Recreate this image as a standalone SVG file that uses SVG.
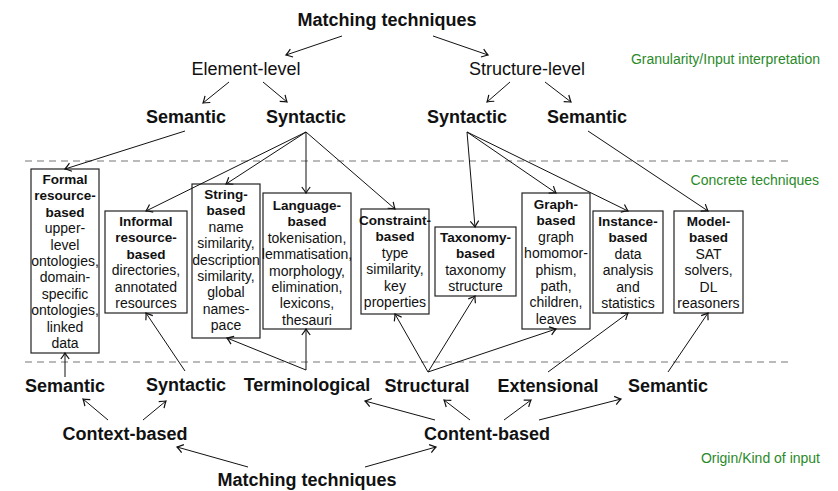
<svg xmlns="http://www.w3.org/2000/svg" width="838" height="491" viewBox="0 0 838 491">
  <style>
    text { font-family: "Liberation Sans", "DejaVu Sans", sans-serif; fill: #111; }
    .big { font-size: 18px; font-weight: bold; text-anchor: middle; }
    .lvl { font-size: 18px; text-anchor: middle; }
    .note { font-size: 14px; fill: #2a8a2a; text-anchor: end; }
    .box rect { fill: #fff; stroke: #222; stroke-width: 1.2; }
    .box text { font-size: 14px; text-anchor: middle; }
    .box .t { font-weight: bold; font-size: 13.5px; }
    .sep { stroke: #777; stroke-width: 1.2; stroke-dasharray: 7 5; fill: none; }
    #connectors line { stroke: #111; stroke-width: 1; fill: none; }
    .arr { marker-end: url(#head); }
  </style>
  <defs>
    <marker id="head" markerUnits="userSpaceOnUse" markerWidth="12" markerHeight="12" viewBox="-7 -5 9 10" refX="0" refY="0" orient="auto">
      <path d="M -5 -3.5 Q -1.5 -0.8 0 0 Q -1.5 0.8 -5 3.5" fill="none" stroke="#111" stroke-width="1"/>
    </marker>
  </defs>

  <rect width="838" height="491" fill="#fff"/>

  <!-- layer separators -->
  <line class="sep" x1="25" y1="161" x2="789" y2="161"/>
  <line class="sep" x1="25" y1="362" x2="789" y2="362"/>

  <!-- layer captions -->
  <text class="note" x="820" y="64">Granularity/Input interpretation</text>
  <text class="note" x="819" y="185">Concrete techniques</text>
  <text class="note" x="820" y="463">Origin/Kind of input</text>

  <!-- upper classification -->
  <g id="top-root"><text class="big" x="387" y="26">Matching techniques</text></g>
  <g id="element-level"><text class="lvl" x="246" y="75">Element-level</text></g>
  <g id="structure-level"><text class="lvl" x="527" y="75">Structure-level</text></g>
  <g id="el-semantic"><text class="big" x="186" y="123">Semantic</text></g>
  <g id="el-syntactic"><text class="big" x="306" y="123">Syntactic</text></g>
  <g id="st-syntactic"><text class="big" x="467" y="123">Syntactic</text></g>
  <g id="st-semantic"><text class="big" x="587" y="123">Semantic</text></g>

  <!-- concrete techniques -->
  <g id="formal" class="box">
    <rect x="31" y="169" width="68" height="184"/>
    <text y="184"><tspan class="t" x="65">Formal</tspan><tspan class="t" x="65" dy="16.4">resource-</tspan><tspan class="t" x="65" dy="16.4">based</tspan><tspan x="65" dy="16.4">upper-</tspan><tspan x="65" dy="16.4">level</tspan><tspan x="65" dy="16.4">ontologies,</tspan><tspan x="65" dy="16.4">domain-</tspan><tspan x="65" dy="16.4">specific</tspan><tspan x="65" dy="16.4">ontologies,</tspan><tspan x="65" dy="16.4">linked</tspan><tspan x="65" dy="16.4">data</tspan></text>
  </g>
  <g id="informal" class="box">
    <rect x="105" y="211" width="82" height="102"/>
    <text y="226"><tspan class="t" x="146">Informal</tspan><tspan class="t" x="146" dy="16.4">resource-</tspan><tspan class="t" x="146" dy="16.4">based</tspan><tspan x="146" dy="16.4">directories,</tspan><tspan x="146" dy="16.4">annotated</tspan><tspan x="146" dy="16.4">resources</tspan></text>
  </g>
  <g id="string" class="box">
    <rect x="192" y="184" width="68" height="154"/>
    <text y="199"><tspan class="t" x="226">String-</tspan><tspan class="t" x="226" dy="16.4">based</tspan><tspan x="226" dy="16.4">name</tspan><tspan x="226" dy="16.4">similarity,</tspan><tspan x="226" dy="16.4">description</tspan><tspan x="226" dy="16.4">similarity,</tspan><tspan x="226" dy="16.4">global</tspan><tspan x="226" dy="16.4">names-</tspan><tspan x="226" dy="16.4">pace</tspan></text>
  </g>
  <g id="language" class="box">
    <rect x="263" y="193" width="88" height="136"/>
    <text y="210"><tspan class="t" x="307">Language-</tspan><tspan class="t" x="307" dy="16.4">based</tspan><tspan x="307" dy="16.4">tokenisation,</tspan><tspan x="307" dy="16.4">lemmatisation,</tspan><tspan x="307" dy="16.4">morphology,</tspan><tspan x="307" dy="16.4">elimination,</tspan><tspan x="307" dy="16.4">lexicons,</tspan><tspan x="307" dy="16.4">thesauri</tspan></text>
  </g>
  <g id="constraint" class="box">
    <rect x="361" y="209" width="68" height="105"/>
    <text y="225"><tspan class="t" x="395">Constraint-</tspan><tspan class="t" x="395" dy="16.4">based</tspan><tspan x="395" dy="16.4">type</tspan><tspan x="395" dy="16.4">similarity,</tspan><tspan x="395" dy="16.4">key</tspan><tspan x="395" dy="16.4">properties</tspan></text>
  </g>
  <g id="taxonomy" class="box">
    <rect x="435" y="227" width="81" height="69"/>
    <text y="242"><tspan class="t" x="475.5">Taxonomy-</tspan><tspan class="t" x="475.5" dy="16.4">based</tspan><tspan x="475.5" dy="16.4">taxonomy</tspan><tspan x="475.5" dy="16.4">structure</tspan></text>
  </g>
  <g id="graph" class="box">
    <rect x="522" y="193" width="68" height="136"/>
    <text y="209"><tspan class="t" x="556">Graph-</tspan><tspan class="t" x="556" dy="16.4">based</tspan><tspan x="556" dy="16.4">graph</tspan><tspan x="556" dy="16.4">homomor-</tspan><tspan x="556" dy="16.4">phism,</tspan><tspan x="556" dy="16.4">path,</tspan><tspan x="556" dy="16.4">children,</tspan><tspan x="556" dy="16.4">leaves</tspan></text>
  </g>
  <g id="instance" class="box">
    <rect x="593" y="211" width="70" height="102"/>
    <text y="226"><tspan class="t" x="628">Instance-</tspan><tspan class="t" x="628" dy="16.4">based</tspan><tspan x="628" dy="16.4">data</tspan><tspan x="628" dy="16.4">analysis</tspan><tspan x="628" dy="16.4">and</tspan><tspan x="628" dy="16.4">statistics</tspan></text>
  </g>
  <g id="model" class="box">
    <rect x="674" y="211" width="69" height="102"/>
    <text y="226"><tspan class="t" x="708.5">Model-</tspan><tspan class="t" x="708.5" dy="16.4">based</tspan><tspan x="708.5" dy="16.4">SAT</tspan><tspan x="708.5" dy="16.4">solvers,</tspan><tspan x="708.5" dy="16.4">DL</tspan><tspan x="708.5" dy="16.4">reasoners</tspan></text>
  </g>

  <!-- lower classification -->
  <g id="kind-semantic"><text class="big" x="65" y="392">Semantic</text></g>
  <g id="kind-syntactic"><text class="big" x="186" y="391">Syntactic</text></g>
  <g id="kind-terminological"><text class="big" x="307" y="391">Terminological</text></g>
  <g id="kind-structural"><text class="big" x="427" y="392">Structural</text></g>
  <g id="kind-extensional"><text class="big" x="548" y="392">Extensional</text></g>
  <g id="kind-semantic2"><text class="big" x="668" y="392">Semantic</text></g>
  <g id="context-based"><text class="big" x="125" y="440">Context-based</text></g>
  <g id="content-based"><text class="big" x="487" y="440">Content-based</text></g>
  <g id="bottom-root"><text class="big" x="307" y="486">Matching techniques</text></g>

  <g id="connectors">
    <!-- upper tree -->
    <line class="arr" x1="342" y1="36" x2="286" y2="55"/>
    <line class="arr" x1="433" y1="36" x2="488" y2="55"/>
    <line class="arr" x1="229" y1="82" x2="203" y2="103"/>
    <line class="arr" x1="263" y1="82" x2="287" y2="102"/>
    <line class="arr" x1="510" y1="82" x2="487" y2="102"/>
    <line class="arr" x1="545" y1="82" x2="571" y2="102"/>
    <!-- upper tree to techniques -->
    <line class="arr" x1="185" y1="131" x2="65" y2="169"/>
    <line class="arr" x1="306" y1="132" x2="146" y2="211"/>
    <line class="arr" x1="306" y1="132" x2="226" y2="184"/>
    <line class="arr" x1="306" y1="132" x2="306" y2="193"/>
    <line class="arr" x1="306" y1="132" x2="395" y2="209"/>
    <line class="arr" x1="467" y1="132" x2="475" y2="227"/>
    <line class="arr" x1="467" y1="132" x2="556" y2="193"/>
    <line class="arr" x1="467" y1="132" x2="628" y2="211"/>
    <line class="arr" x1="588" y1="131" x2="708" y2="211"/>
    <!-- lower tree to techniques -->
    <line class="arr" x1="65" y1="377" x2="65" y2="353"/>
    <line class="arr" x1="185" y1="371" x2="146" y2="313"/>
    <line class="arr" x1="306" y1="370" x2="227" y2="338"/>
    <line class="arr" x1="306" y1="370" x2="306" y2="329"/>
    <line class="arr" x1="428" y1="372" x2="395" y2="314"/>
    <line class="arr" x1="428" y1="372" x2="475" y2="296"/>
    <line class="arr" x1="428" y1="372" x2="556" y2="329"/>
    <line class="arr" x1="548" y1="372" x2="628" y2="313"/>
    <line class="arr" x1="668" y1="372" x2="708" y2="313"/>
    <!-- lower tree -->
    <line class="arr" x1="108" y1="420" x2="83" y2="399"/>
    <line class="arr" x1="143" y1="420" x2="166" y2="401"/>
    <line class="arr" x1="435" y1="420" x2="365" y2="401"/>
    <line class="arr" x1="470" y1="420" x2="444" y2="400"/>
    <line class="arr" x1="504" y1="420" x2="531" y2="400"/>
    <line class="arr" x1="539" y1="420" x2="621" y2="399"/>
    <line class="arr" x1="248" y1="467" x2="177" y2="447"/>
    <line class="arr" x1="365" y1="467" x2="436" y2="447"/>
  </g>
</svg>
